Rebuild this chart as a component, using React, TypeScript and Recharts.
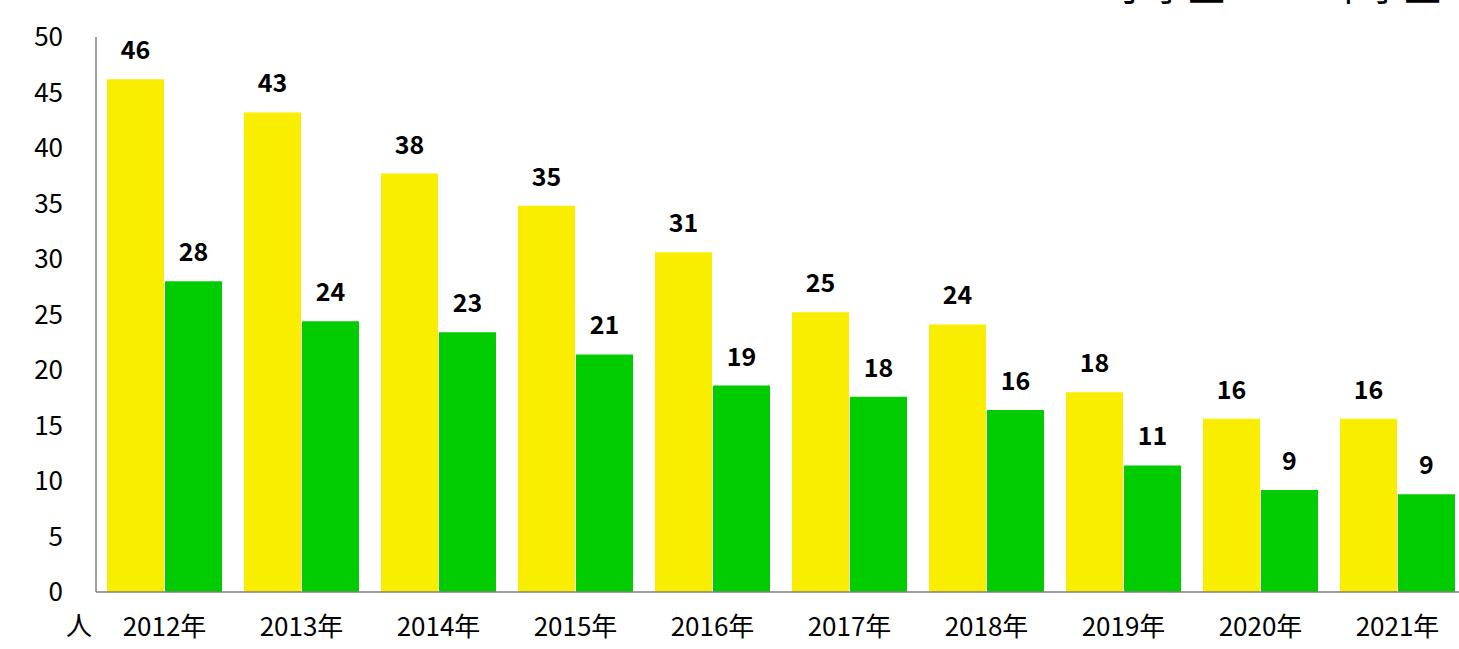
import { BarChart, Bar, XAxis, YAxis, LabelList, Legend } from 'recharts';

const years = ['2012年', '2013年', '2014年', '2015年', '2016年', '2017年', '2018年', '2019年', '2020年', '2021年'];
const elementary = [46.2, 43.2, 37.7, 34.8, 30.6, 25.2, 24.1, 18.0, 15.6, 15.6];
const juniorHigh = [28.0, 24.4, 23.4, 21.4, 18.6, 17.6, 16.4, 11.4, 9.2, 8.8];
const yTicks = [0, 5, 10, 15, 20, 25, 30, 35, 40, 45, 50];

const YELLOW = '#F9EE00';
const GREEN = '#00CC00';
const FONT = '"Noto Sans CJK JP", "Noto Sans", sans-serif';

const data = years.map((year, i) => ({
  year,
  elementary: elementary[i],
  juniorHigh: juniorHigh[i],
}));

const legendItems = [
  { label: '小学生', color: YELLOW, left: 1114 },
  { label: '中学生', color: GREEN, left: 1330 },
];

function TopLegend() {
  return (
    <div style={{ position: 'relative', width: 1466, height: 40 }}>
      {legendItems.map((item) => (
        <div
          key={item.label}
          style={{
            position: 'absolute',
            left: item.left - 40,
            top: 0,
            display: 'flex',
            alignItems: 'center',
            fontFamily: FONT,
            fontSize: 37,
            lineHeight: '37px',
            color: '#000',
          }}
        >
          <span style={{ display: 'inline-block', width: 22, height: 22, background: item.color, marginRight: 18 }} />
          {item.label}
        </div>
      ))}
    </div>
  );
}

export default function App() {
  return (
    <div
      style={{
        position: 'fixed',
        left: 0,
        top: 0,
        width: 1459,
        height: 649,
        overflow: 'hidden',
        background: '#fff',
      }}
    >
      <div style={{ position: 'absolute', left: 0, top: -30 }}>
        <BarChart
          width={1466}
          height={679}
          data={data}
          margin={{ top: 67, right: 0, bottom: 0, left: 0 }}
          barCategoryGap={11}
          barGap={1}
        >
          <Legend
            verticalAlign="middle"
            align="center"
            wrapperStyle={{ position: 'absolute', top: -3, left: 0, width: 1466 }}
            content={() => <TopLegend />}
          />
          <XAxis
            dataKey="year"
            axisLine={{ stroke: '#7f7f7f', strokeWidth: 1.5 }}
            tickLine={false}
            tickSize={0}
            tickMargin={26}
            tick={{ fill: '#000', fontSize: 26, fontFamily: FONT }}
            height={57}
            interval={0}
          />
          <YAxis
            domain={[0, 50]}
            ticks={yTicks}
            width={96}
            axisLine={{ stroke: '#7f7f7f', strokeWidth: 1.5 }}
            tickLine={false}
            tickSize={0}
            tickMargin={33}
            tick={{ fill: '#000', fontSize: 26, fontFamily: FONT }}
            label={{
              content: ({ viewBox }: any) => (
                <text
                  x={viewBox.x + 79}
                  y={viewBox.y + viewBox.height + 43}
                  textAnchor="middle"
                  fontSize={26}
                  fontFamily={FONT}
                  fill="#000"
                >
                  人
                </text>
              ),
            }}
          />
          <Bar dataKey="elementary" fill={YELLOW} isAnimationActive={false}>
            <LabelList
              dataKey="elementary"
              position="top"
              offset={20}
              formatter={(v: any) => Math.round(Number(v))}
              style={{ fill: '#000', fontSize: 25, fontWeight: 'bold', fontFamily: FONT }}
            />
          </Bar>
          <Bar dataKey="juniorHigh" fill={GREEN} isAnimationActive={false}>
            <LabelList
              dataKey="juniorHigh"
              position="top"
              offset={20}
              formatter={(v: any) => Math.round(Number(v))}
              style={{ fill: '#000', fontSize: 25, fontWeight: 'bold', fontFamily: FONT }}
            />
          </Bar>
        </BarChart>
      </div>
    </div>
  );
}
